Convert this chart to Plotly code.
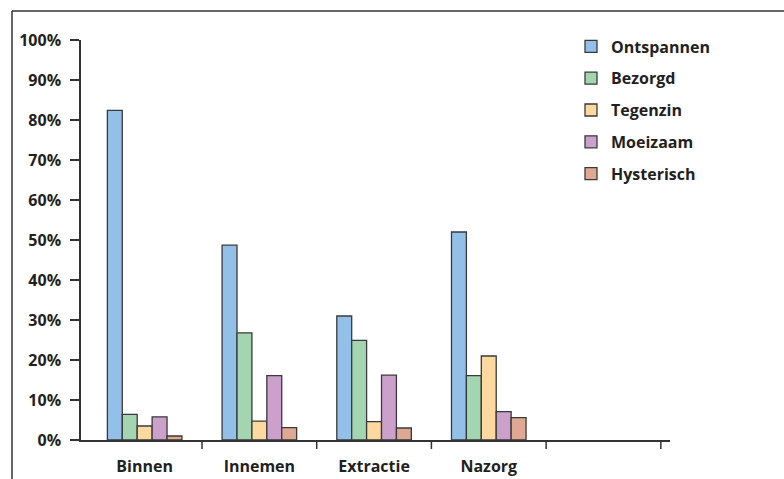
import plotly.graph_objects as go

categories = ["Binnen", "Innemen", "Extractie", "Nazorg", " "]
series_names = ["Ontspannen", "Bezorgd", "Tegenzin", "Moeizaam", "Hysterisch"]
ontspannen = [82.4, 48.7, 31.0, 52.0, None]
bezorgd = [6.4, 26.8, 24.9, 16.1, None]
tegenzin = [3.5, 4.7, 4.6, 21.0, None]
moeizaam = [5.8, 16.1, 16.2, 7.1, None]
hysterisch = [1.0, 3.1, 3.0, 5.6, None]
y_ticks = [0, 10, 20, 30, 40, 50, 60, 70, 80, 90, 100]

colors = ["#93c0e8", "#a3d5b0", "#fdd9a0", "#cba1cc", "#dea893"]
values = [ontspannen, bezorgd, tegenzin, moeizaam, hysterisch]

W, H = 784, 479
L, R, T, B = 81, 670, 39.5, 440  # plot area in pixels

fig = go.Figure()
for name, vals, col in zip(series_names, values, colors):
    fig.add_trace(go.Bar(
        x=categories, y=vals, name=name, legendgroup=name,
        marker=dict(color=col, line=dict(color="#3a3a3a", width=1.3)),
    ))

font_family = "Open Sans"
txt = "#231f20"
axis_col = "#333333"


def px_x(p):
    return (p - L) / (R - L)


def px_y(p):
    return (B - p) / (B - T)


# outer frame: left and top rules
fig.add_shape(type="line", xref="paper", yref="paper",
              x0=px_x(12), x1=px_x(12), y0=px_y(10.5), y1=px_y(H + 5),
              line=dict(color=axis_col, width=1.5))
fig.add_shape(type="line", xref="paper", yref="paper",
              x0=px_x(12), x1=px_x(W + 5), y0=px_y(10.5), y1=px_y(10.5),
              line=dict(color=axis_col, width=1.5))

# category separators below the x axis (right edge of each category slot)
tick_len = 9 / (B - T)
for i in range(len(categories)):
    fig.add_shape(type="line", xref="x", yref="paper",
                  x0=i + 0.5, x1=i + 0.5, y0=0, y1=-tick_len,
                  line=dict(color=axis_col, width=1.5))

fig.update_layout(
    width=W, height=H,
    margin=dict(l=L, r=W - R, t=T, b=H - B, pad=0),
    paper_bgcolor="white", plot_bgcolor="white",
    barmode="group", bargap=0.35, bargroupgap=0,
    font=dict(family=font_family, size=16, color=txt, weight="bold"),
    showlegend=True,
    legend=dict(
        x=px_x(571), y=px_y(29), xanchor="left", yanchor="top",
        tracegroupgap=8, font=dict(size=16, color=txt, weight="bold"),
        bgcolor="rgba(0,0,0,0)",
    ),
    xaxis=dict(
        type="category", range=[-0.555, 4.58], automargin=False,
        showline=True, linecolor=axis_col, linewidth=2,
        ticks="", showgrid=False, zeroline=False,
        tickfont=dict(size=16, color=txt, weight="bold"),
        ticklabelstandoff=11,
    ),
    yaxis=dict(
        range=[0, 100], tickvals=y_ticks, automargin=False,
        ticktext=[f"{v}%" for v in y_ticks],
        showline=True, linecolor=axis_col, linewidth=1.5,
        ticks="outside", ticklen=9, tickwidth=1.5, tickcolor=axis_col,
        showgrid=False, zeroline=False,
        tickfont=dict(size=16, color=txt, weight="bold"),
        ticklabelstandoff=6,
    ),
)

fig.write_html("out.html")
